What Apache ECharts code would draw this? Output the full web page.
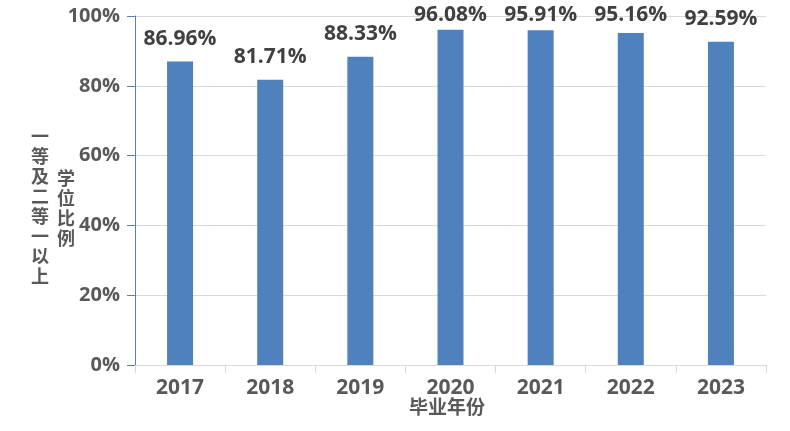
<!DOCTYPE html>
<html>
<head>
<meta charset="utf-8">
<script src="https://cdn.jsdelivr.net/npm/echarts@6/dist/echarts.min.js"></script>
<style>html,body{margin:0;padding:0;background:#fff}#c{width:790px;height:431px}</style>
</head>
<body>
<div id="c"></div>
<script>
const categories = ['2017', '2018', '2019', '2020', '2021', '2022', '2023'];
const values = [86.96, 81.71, 88.33, 96.08, 95.91, 95.16, 92.59];
const yTicks = [0, 20, 40, 60, 80, 100];
const xTitle = '毕业年份';
const yTitleCol1 = '一等及二等一以上';
const yTitleCol2 = '学位比例';

const chart = echarts.init(document.getElementById('c'));
const fontLatin = '"Open Sans", "Noto Sans", sans-serif';
const fontCJK = '"Noto Sans CJK SC", sans-serif';
chart.setOption({
  animation: false,
  grid: { left: 135, right: 24, top: 16, bottom: 66 },
  xAxis: {
    type: 'category',
    data: categories,
    boundaryGap: true,
    axisLine: { lineStyle: { color: '#d9d9d9', width: 1 } },
    axisTick: { show: true, length: 8, lineStyle: { color: '#d9d9d9' } },
    axisLabel: { margin: 13, fontFamily: fontLatin, fontWeight: 'bold', fontSize: 21, color: '#595959' }
  },
  yAxis: {
    type: 'value',
    min: yTicks[0],
    max: yTicks[yTicks.length - 1],
    interval: 20,
    axisLine: { show: true, lineStyle: { color: '#5b7fae', width: 1 } },
    axisTick: { show: true, inside: false, length: 8, lineStyle: { color: '#5b7fae' } },
    splitLine: { show: true, lineStyle: { color: '#d9d9d9', width: 1 } },
    axisLabel: { margin: 15, fontFamily: fontLatin, fontWeight: 'bold', fontSize: 20, color: '#595959', formatter: v => v + '%' }
  },
  graphic: [
    { type: 'text', left: 409, top: 397, style: { text: xTitle, font: 'bold 19px ' + fontCJK, fill: '#595959' } },
    { type: 'text', x: 40, y: 206, style: { text: yTitleCol1.split('').join('\n'), font: 'bold 18px ' + fontCJK, fill: '#595959', align: 'center', verticalAlign: 'middle', lineHeight: 20 } },
    { type: 'text', x: 66, y: 208, style: { text: yTitleCol2.split('').join('\n'), font: 'bold 18px ' + fontCJK, fill: '#595959', align: 'center', verticalAlign: 'middle', lineHeight: 20 } }
  ],
  series: [{
    type: 'bar',
    data: values,
    barWidth: 26,
    itemStyle: { color: '#4f81bd' },
    label: {
      show: true, position: 'top', distance: 12,
      fontFamily: fontLatin, fontWeight: 'bold', fontSize: 21, color: '#404040',
      formatter: p => p.value.toFixed(2) + '%'
    },
    labelLayout: function (p) {
      const minTop = 5;
      if (p.labelRect.y < minTop) return { dy: minTop - p.labelRect.y };
      return {};
    }
  }]
});
</script>
</body>
</html>
